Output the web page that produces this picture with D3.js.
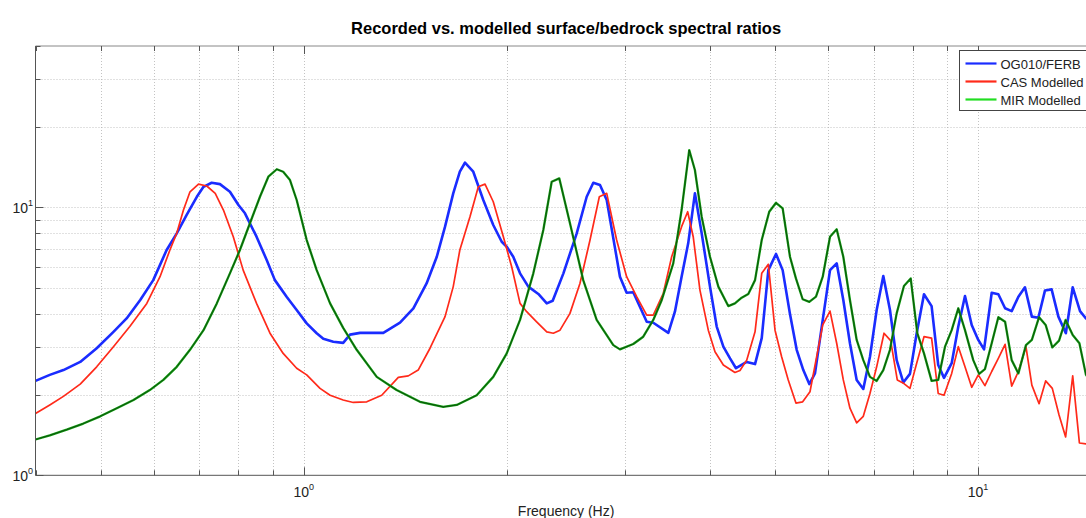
<!DOCTYPE html>
<html>
<head>
<meta charset="utf-8">
<script src="https://cdn.jsdelivr.net/npm/d3@7"></script>
<style>
  html, body { margin: 0; padding: 0; background: #fff; overflow: hidden; }
  svg { display: block; font-family: "Liberation Sans", Arial, Helvetica, sans-serif; }
</style>
</head>
<body>
<div id="chart"></div>
<script>
// Recorded vs. modelled surface/bedrock spectral ratios (log-log)

const title = 'Recorded vs. modelled surface/bedrock spectral ratios';
const xLabel = 'Frequency (Hz)';
const seriesNames = ['OG010/FERB', 'CAS Modelled', 'MIR Modelled'];

// recorded ratio OG010/FERB
const ogFreq = [0.40, 0.42, 0.44, 0.466, 0.493, 0.522, 0.546, 0.572, 0.598, 0.626, 0.648, 0.670, 0.694, 0.710, 0.730, 0.751, 0.777, 0.800, 0.818, 0.851, 0.881, 0.906, 0.943, 0.976,
  1.010, 1.045, 1.069, 1.106, 1.144, 1.171, 1.212, 1.312, 1.389, 1.454, 1.521, 1.575, 1.620, 1.666, 1.704, 1.734, 1.784, 1.846, 1.910, 1.966,
  2.000, 2.045, 2.093, 2.153, 2.228, 2.293, 2.340, 2.427, 2.540, 2.628, 2.688, 2.750, 2.814, 2.944, 3.012, 3.081, 3.226, 3.299, 3.473, 3.552,
  3.634, 3.717, 3.803, 3.892, 4.004, 4.097, 4.191, 4.288, 4.376, 4.539, 4.670, 4.778, 4.887, 5.017, 5.132, 5.262, 5.384, 5.507, 5.621, 5.731,
  5.885, 6.033, 6.172, 6.313, 6.458, 6.608, 6.759, 6.915, 7.075, 7.237, 7.404, 7.575, 7.748, 7.927, 8.111, 8.316, 8.535, 8.730, 8.905, 9.141,
  9.350, 9.566, 9.788, 10.01, 10.21, 10.48, 10.72, 10.97, 11.22, 11.48, 11.74, 12.02, 12.29, 12.57, 12.86, 13.16, 13.50, 13.82, 14.17, 14.46, 15.0];
const ogRatio = [2.25, 2.37, 2.47, 2.65, 2.98, 3.43, 3.85, 4.51, 5.35, 6.93, 8.00, 9.36, 10.95, 11.93, 12.35, 12.21, 11.43, 10.20, 9.50, 7.77, 6.36, 5.35, 4.64, 4.14,
  3.69, 3.39, 3.23, 3.15, 3.12, 3.35, 3.40, 3.40, 3.71, 4.20, 5.20, 6.54, 8.47, 11.28, 13.58, 14.67, 13.58, 10.65, 8.59, 7.44,
  7.13, 6.54, 5.67, 5.06, 4.75, 4.38, 4.48, 5.67, 8.00, 10.95, 12.35, 12.11, 10.65, 5.51, 4.80, 4.82, 3.74, 3.71, 3.40, 4.08,
  5.51, 7.34, 11.28, 8.00, 5.06, 3.59, 3.02, 2.73, 2.51, 2.65, 2.60, 3.25, 5.83, 6.70, 5.83, 4.00, 2.94, 2.47, 2.19, 2.40,
  3.80, 5.83, 6.18, 4.51, 3.11, 2.27, 2.10, 2.77, 4.14, 5.54, 4.14, 2.69, 2.22, 2.39, 3.39, 4.74, 4.28, 2.58, 2.31, 2.62,
  3.59, 4.67, 3.64, 3.20, 2.95, 4.80, 4.74, 4.20, 4.10, 4.64, 5.03, 3.91, 3.87, 4.89, 4.94, 3.91, 3.39, 5.03, 4.10, 3.85, 4.30];

// CAS model
const casFreq = [0.40, 0.42, 0.44, 0.466, 0.493, 0.522, 0.552, 0.585, 0.612, 0.633, 0.648, 0.663, 0.678, 0.698, 0.718, 0.739, 0.760, 0.786, 0.813, 0.851, 0.891, 0.932, 0.976,
  1.010, 1.057, 1.094, 1.144, 1.184, 1.240, 1.305, 1.381, 1.429, 1.478, 1.539, 1.620, 1.666, 1.704, 1.764, 1.815, 1.857, 1.910, 1.977,
  2.034, 2.093, 2.141, 2.215, 2.293, 2.345, 2.399, 2.482, 2.568, 2.658, 2.744, 2.814, 2.911, 3.012, 3.117, 3.226, 3.299, 3.414, 3.513, 3.634,
  3.710, 3.781, 3.869, 3.981, 4.073, 4.191, 4.360, 4.436, 4.539, 4.670, 4.778, 4.887, 5.000, 5.114, 5.231, 5.370, 5.495, 5.634, 5.885, 6.033,
  6.172, 6.313, 6.458, 6.608, 6.759, 6.915, 7.075, 7.255, 7.421, 7.591, 7.766, 7.927, 8.111, 8.316, 8.535, 8.730, 8.905, 9.141, 9.350, 9.566,
  9.788, 10.01, 10.24, 10.48, 10.72, 10.97, 11.22, 11.48, 11.78, 12.02, 12.32, 12.60, 12.89, 13.19, 13.49, 13.82, 14.14, 14.46, 15.0];
const casRatio = [1.70, 1.83, 1.97, 2.19, 2.54, 3.02, 3.59, 4.38, 5.51, 6.93, 8.00, 9.77, 11.43, 12.21, 12.01, 11.28, 9.77, 7.77, 5.83, 4.38, 3.39, 2.85, 2.51,
  2.37, 2.11, 1.99, 1.91, 1.87, 1.88, 1.99, 2.32, 2.35, 2.47, 2.98, 3.91, 5.06, 6.93, 9.22, 11.93, 12.21, 10.49, 7.77,
  6.00, 4.38, 4.08, 3.74, 3.43, 3.39, 3.48, 4.02, 5.20, 7.55, 10.95, 11.28, 7.55, 5.51, 4.64, 3.96, 3.96, 4.78, 6.54, 8.47,
  9.63, 7.77, 4.91, 3.48, 2.89, 2.58, 2.42, 2.46, 2.69, 3.43, 5.67, 6.13, 3.48, 2.77, 2.27, 1.86, 1.88, 2.05, 3.64, 4.10,
  3.11, 2.27, 1.78, 1.57, 1.66, 2.02, 2.54, 3.39, 3.18, 2.27, 2.20, 2.11, 2.62, 3.29, 3.25, 2.02, 1.99, 2.40, 3.02, 2.54,
  2.13, 2.37, 2.16, 2.44, 2.73, 3.08, 2.15, 2.44, 3.02, 2.17, 1.85, 2.25, 2.11, 1.68, 1.39, 2.35, 1.32, 1.31, 1.35];

// MIR model
const mirFreq = [0.40, 0.42, 0.445, 0.471, 0.499, 0.528, 0.559, 0.591, 0.619, 0.648, 0.678, 0.710, 0.743, 0.777, 0.804, 0.832, 0.861, 0.886, 0.912, 0.932, 0.954, 0.976,
  1.010, 1.045, 1.094, 1.144, 1.198, 1.283, 1.373, 1.487, 1.610, 1.686, 1.805, 1.910,
  2.000, 2.093, 2.190, 2.266, 2.332, 2.393, 2.482, 2.597, 2.719, 2.878, 2.944, 3.081, 3.188, 3.299, 3.396, 3.532, 3.634, 3.730, 3.803, 3.892,
  4.004, 4.120, 4.262, 4.360, 4.462, 4.564, 4.670, 4.778, 4.902, 5.017, 5.132, 5.262, 5.370, 5.495, 5.621, 5.751, 5.885, 6.033, 6.172, 6.313,
  6.458, 6.608, 6.759, 6.915, 7.075, 7.237, 7.404, 7.575, 7.766, 7.947, 8.128, 8.316, 8.535, 8.730, 8.935, 9.141, 9.350, 9.566, 9.840,
  10.04, 10.24, 10.48, 10.72, 10.97, 11.22, 11.48, 11.78, 12.02, 12.32, 12.60, 12.89, 13.19, 13.49, 13.82, 14.14, 14.46, 15.0];
const mirRatio = [1.36, 1.41, 1.48, 1.56, 1.66, 1.78, 1.91, 2.08, 2.27, 2.54, 2.94, 3.48, 4.38, 5.67, 6.93, 8.72, 10.95, 13.01, 13.87, 13.58, 12.64, 10.65,
  7.55, 5.83, 4.38, 3.55, 2.94, 2.33, 2.08, 1.88, 1.80, 1.83, 1.99, 2.33,
  2.85, 3.80, 5.67, 8.23, 12.46, 12.83, 8.72, 5.35, 3.80, 3.06, 2.95, 3.09, 3.29, 3.80, 4.51, 6.18, 9.77, 16.36, 13.78, 9.22,
  6.54, 5.06, 4.28, 4.38, 4.60, 4.75, 5.35, 7.55, 9.63, 10.40, 9.91, 6.54, 5.43, 4.54, 4.44, 4.64, 5.51, 7.77, 8.28, 6.54,
  4.51, 3.20, 2.69, 2.33, 2.25, 2.47, 2.94, 4.02, 5.09, 5.43, 3.39, 2.85, 2.25, 2.27, 3.02, 3.48, 4.20, 3.48, 2.69,
  2.39, 2.49, 3.11, 3.89, 3.74, 2.69, 2.40, 3.06, 3.20, 3.89, 3.64, 3.00, 3.18, 3.80, 3.34, 3.11, 2.37, 2.10];

const xTicks = [0.4, 0.5, 0.6, 0.7, 0.8, 0.9, 1, 2, 3, 4, 5, 6, 7, 8, 9, 10];
const yTicks = [1, 2, 3, 4, 5, 6, 7, 8, 9, 10, 20, 30, 40];

const width = 1086, height = 518;
const plot = { left: 35.5, right: 1096.7, top: 46, bottom: 475.3 };

const svg = d3.select('#chart').append('svg')
    .attr('width', width).attr('height', height);

const x = d3.scaleLog().domain([0.4, 15]).range([plot.left, plot.right]);
const y = d3.scaleLog().domain([1, 40]).range([plot.bottom, plot.top]);

const isDecade = d => Math.abs(Math.log10(d) - Math.round(Math.log10(d))) < 1e-9;

// grid
const grid = svg.append('g').attr('stroke', '#b4b4b4').attr('stroke-width', 0.8)
    .attr('stroke-dasharray', '1,2');
grid.selectAll('.gx').data(xTicks.filter(d => d > 0.4)).enter().append('line')
    .attr('x1', d => Math.round(x(d)) + 0.5).attr('x2', d => Math.round(x(d)) + 0.5)
    .attr('y1', plot.top).attr('y2', plot.bottom);
grid.selectAll('.gy').data(yTicks.filter(d => d > 1 && d < 40)).enter().append('line')
    .attr('y1', d => Math.round(y(d)) + 0.5).attr('y2', d => Math.round(y(d)) + 0.5)
    .attr('x1', plot.left).attr('x2', plot.right);

// series
svg.append('defs').append('clipPath').attr('id', 'plotclip')
    .append('rect').attr('x', plot.left).attr('y', plot.top)
    .attr('width', plot.right - plot.left).attr('height', plot.bottom - plot.top);

const line = d3.line().x(d => x(d[0])).y(d => y(d[1]));
const lines = svg.append('g').attr('clip-path', 'url(#plotclip)').attr('fill', 'none')
    .attr('stroke-linejoin', 'round');

lines.append('path').datum(d3.zip(ogFreq, ogRatio))
    .attr('d', line).attr('stroke', '#1a2cff').attr('stroke-width', 2.6);
lines.append('path').datum(d3.zip(casFreq, casRatio))
    .attr('d', line).attr('stroke', '#ff2a1a').attr('stroke-width', 1.7);
lines.append('path').datum(d3.zip(mirFreq, mirRatio))
    .attr('d', line).attr('stroke', '#12a012').attr('stroke-width', 2.3);
lines.append('path').datum(d3.zip(mirFreq, mirRatio))
    .attr('d', line).attr('stroke', '#0a2a0a').attr('stroke-width', 0.9).attr('opacity', 0.75);

// axes box and ticks
const axis = svg.append('g').attr('stroke', '#555').attr('stroke-width', 1);
axis.append('line').attr('x1', plot.left).attr('x2', plot.left).attr('y1', plot.top).attr('y2', plot.bottom);
axis.append('line').attr('x1', plot.left).attr('x2', plot.right).attr('y1', plot.bottom).attr('y2', plot.bottom);
axis.append('line').attr('x1', plot.left).attr('x2', plot.right).attr('y1', plot.top).attr('y2', plot.top)
    .attr('stroke', '#888');

const tlen = d => isDecade(d) ? 8 : 5;
axis.selectAll('.tb').data(xTicks).enter().append('line')
    .attr('x1', d => Math.round(x(d)) + 0.5).attr('x2', d => Math.round(x(d)) + 0.5)
    .attr('y1', plot.bottom).attr('y2', d => plot.bottom - tlen(d));
axis.selectAll('.tt').data(xTicks).enter().append('line')
    .attr('x1', d => Math.round(x(d)) + 0.5).attr('x2', d => Math.round(x(d)) + 0.5)
    .attr('y1', plot.top).attr('y2', d => plot.top + tlen(d));
axis.selectAll('.tl').data(yTicks).enter().append('line')
    .attr('y1', d => Math.round(y(d)) + 0.5).attr('y2', d => Math.round(y(d)) + 0.5)
    .attr('x1', plot.left).attr('x2', d => plot.left + tlen(d));

// tick labels (powers of ten)
const xLab = svg.selectAll('.xl').data(xTicks.filter(isDecade)).enter().append('text')
    .attr('x', d => x(d)).attr('y', 497).attr('text-anchor', 'middle')
    .attr('font-size', 14).attr('fill', '#222');
xLab.append('tspan').text('10');
xLab.append('tspan').attr('dy', -7).attr('font-size', 9).text(d => Math.round(Math.log10(d)));

const yLab = svg.selectAll('.yl').data(yTicks.filter(isDecade)).enter().append('text')
    .attr('x', 33).attr('y', d => y(d) + 6).attr('text-anchor', 'end')
    .attr('font-size', 14).attr('fill', '#222');
yLab.append('tspan').text('10');
yLab.append('tspan').attr('dy', -7).attr('font-size', 9).text(d => Math.round(Math.log10(d)));

// title and axis label
svg.append('text').attr('x', (plot.left + plot.right) / 2).attr('y', 34)
    .attr('text-anchor', 'middle').attr('font-size', 16.5).attr('font-weight', 'bold')
    .attr('fill', '#000').text(title);
svg.append('text').attr('x', (plot.left + plot.right) / 2).attr('y', 516)
    .attr('text-anchor', 'middle').attr('font-size', 14).attr('fill', '#222').text(xLabel);

// legend
const legendColors = ['#1a2cff', '#ff2a1a', '#22dd22'];
const lg = svg.append('g').attr('transform', 'translate(959.5,50.5)');
lg.append('rect').attr('width', 150).attr('height', 60)
    .attr('fill', '#fff').attr('stroke', '#444').attr('stroke-width', 1);
const items = lg.selectAll('.li').data(seriesNames).enter().append('g')
    .attr('transform', (d, i) => `translate(0,${13 + i * 18})`);
items.append('line').attr('x1', 6).attr('x2', 37).attr('y1', 0).attr('y2', 0)
    .attr('stroke', (d, i) => legendColors[i]).attr('stroke-width', 2.2);
items.append('text').attr('x', 41).attr('y', 5).attr('font-size', 13)
    .attr('fill', '#222').text(d => d);
</script>
</body>
</html>
